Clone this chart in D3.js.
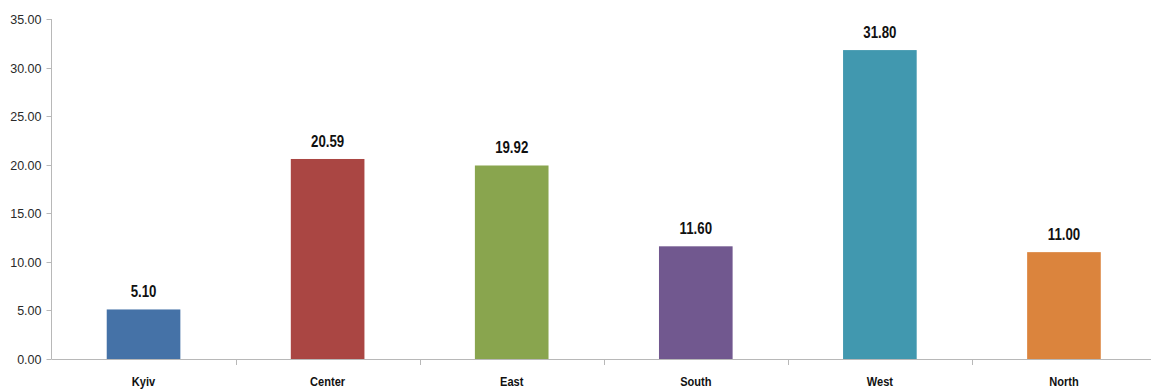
<!DOCTYPE html>
<html>
<head>
<meta charset="utf-8">
<script src="https://cdn.jsdelivr.net/npm/d3@7"></script>
<style>
  html, body { margin: 0; padding: 0; background: #fff; }
  svg { display: block; }
  .tick-label { font-family: "Liberation Sans", Arial, sans-serif; font-size: 12.5px; fill: #2a2a2a; }
  .bold-label { font-family: "Liberation Sans", Arial, sans-serif; font-weight: bold; fill: #111; }
</style>
</head>
<body>
<svg id="chart" width="1151" height="392"></svg>
<script>
// Regional shares
const categories = ["Kyiv", "Center", "East", "South", "West", "North"];
const values = [5.10, 20.59, 19.92, 11.60, 31.80, 11.00];
const colors = ["#4572A7", "#AA4643", "#89A54E", "#71588F", "#4198AF", "#DB843D"];
const yTicks = [0, 5, 10, 15, 20, 25, 30, 35];

const svg = d3.select("#chart");
const axisColor = "#b8b8b8";

const x0 = 51.5, x1 = 1156;
const yZero = 359, yTop = 19;

const x = d3.scaleBand().domain(categories).range([x0, x1]).padding(0);
const y = d3.scaleLinear().domain([0, 35]).range([yZero, yTop]);
const barW = x.bandwidth() * 0.4;
const cx = (d) => x(d) + x.bandwidth() / 2;

// y axis
svg.append("line")
  .attr("x1", x0).attr("x2", x0).attr("y1", yTop).attr("y2", yZero)
  .attr("stroke", axisColor).attr("stroke-width", 1);

const yt = svg.append("g");
yTicks.forEach(t => {
  const yy = Math.round(y(t)) + 0.5;
  yt.append("line").attr("x1", x0 - 5).attr("x2", x0).attr("y1", yy).attr("y2", yy)
    .attr("stroke", axisColor);
  yt.append("text").attr("class", "tick-label")
    .attr("x", x0 - 10).attr("y", yy).attr("dy", "0.35em")
    .attr("text-anchor", "end")
    .text(d3.format(".2f")(t));
});

// bars
svg.append("g").selectAll("rect")
  .data(categories)
  .join("rect")
  .attr("x", (d) => x(d) + (x.bandwidth() - barW) / 2)
  .attr("width", barW)
  .attr("y", (d, i) => y(values[i]))
  .attr("height", (d, i) => yZero - y(values[i]))
  .attr("fill", (d, i) => colors[i]);

// x axis
svg.append("line")
  .attr("x1", x0).attr("x2", x1).attr("y1", yZero + 0.5).attr("y2", yZero + 0.5)
  .attr("stroke", axisColor).attr("stroke-width", 1);

categories.forEach((c, i) => {
  if (i > 0) {
    const xx = Math.round(x(c)) + 0.5;
    svg.append("line").attr("x1", xx).attr("x2", xx)
      .attr("y1", yZero).attr("y2", yZero + 6).attr("stroke", axisColor);
  }
  // condensed bold category label
  svg.append("text").attr("class", "bold-label")
    .attr("transform", `translate(${cx(c)},386) scale(0.82,1)`)
    .attr("text-anchor", "middle").style("font-size", "13.5px")
    .text(c);
});

// value labels, condensed bold
svg.append("g").selectAll("text")
  .data(categories)
  .join("text")
  .attr("class", "bold-label")
  .attr("transform", (d, i) => `translate(${cx(d)},${y(values[i]) - 12}) scale(0.78,1)`)
  .attr("text-anchor", "middle")
  .style("font-size", "17px")
  .text((d, i) => d3.format(".2f")(values[i]));
</script>
</body>
</html>
